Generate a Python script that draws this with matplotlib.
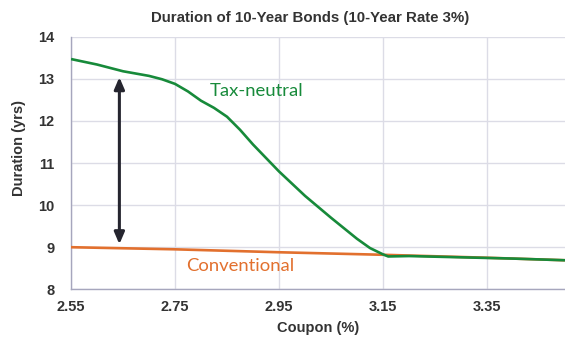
#!/usr/bin/env python3
# duration of 10-year bonds: tax-neutral vs conventional
import matplotlib
matplotlib.use("Agg")
import matplotlib.pyplot as plt

# values
coupon_tn = [2.55, 2.60, 2.65, 2.70, 2.725, 2.75, 2.775, 2.80, 2.825, 2.85, 2.875,
             2.90, 2.95, 3.00, 3.05, 3.10, 3.125, 3.15, 3.16, 3.20, 3.30,
             3.40, 3.50]
dur_tax_neutral = [13.47, 13.34, 13.18, 13.07, 12.99, 12.88, 12.70, 12.48, 12.31, 12.10, 11.79,
                   11.44, 10.80, 10.22, 9.70, 9.20, 8.98, 8.83, 8.78, 8.79, 8.76,
                   8.73, 8.69]
coupon_conv = [2.55, 2.75, 2.95, 3.15, 3.35, 3.50]
dur_conventional = [9.00, 8.95, 8.88, 8.82, 8.75, 8.69]
x_ticks = [2.55, 2.75, 2.95, 3.15, 3.35]
y_ticks = [8, 9, 10, 11, 12, 13, 14]
gap_at = 2.643
gap_range = (9.07, 13.04)

GREEN = "#178a3a"
ORANGE = "#e2702e"
TXT = "#333333"
SANS = "Liberation Sans"

fig = plt.figure(figsize=(5.65, 3.39), dpi=100)
ax = fig.add_axes([0.1257, 0.1466, 0.8743, 0.745])

ax.plot(coupon_conv, dur_conventional, color=ORANGE, lw=1.9, solid_capstyle="butt", zorder=3)
ax.plot(coupon_tn, dur_tax_neutral, color=GREEN, lw=1.9, solid_capstyle="butt", zorder=4)

ax.annotate("", xy=(gap_at, gap_range[1]), xytext=(gap_at, gap_range[0]),
            arrowprops=dict(arrowstyle="<|-|>,head_length=0.7,head_width=0.3",
                            color="#25252f", lw=2.2, shrinkA=0, shrinkB=0), zorder=5)

ax.text(2.817, 12.72, "Tax-neutral", color=GREEN, fontsize=13.3, family="Lato",
        va="center", ha="left")
ax.text(2.772, 8.55, "Conventional", color=ORANGE, fontsize=13.3, family="Lato",
        va="center", ha="left")

ax.set_xlim(2.55, 3.50)
ax.set_ylim(8, 14)
ax.set_xticks(x_ticks)
ax.set_xticklabels([f"{v:.2f}" for v in x_ticks])
ax.set_yticks(y_ticks)
ax.grid(True, color="#dcdce6", lw=1.0, zorder=0)
ax.set_axisbelow(True)
ax.tick_params(length=0, labelsize=10.5, labelcolor=TXT)
ax.tick_params(axis="x", pad=8)
ax.tick_params(axis="y", pad=12)
for lab in ax.get_xticklabels() + ax.get_yticklabels():
    lab.set_fontweight("bold")
    lab.set_family(SANS)
for side in ("top", "right"):
    ax.spines[side].set_visible(False)
for side in ("left", "bottom"):
    ax.spines[side].set_color("#a6a6bd")
    ax.spines[side].set_linewidth(1.0)

ax.set_xlabel("Coupon (%)", fontsize=10.5, fontweight="bold", color=TXT, family=SANS)
ax.set_ylabel("Duration (yrs)", fontsize=10.5, fontweight="bold", color=TXT, family=SANS)
ax.xaxis.set_label_coords(0.5, -0.125)
ax.yaxis.set_label_coords(-0.092, 0.56)
fig.text(0.549, 0.946, "Duration of 10-Year Bonds (10-Year Rate 3%)", fontsize=10.8,
         fontweight="bold", color=TXT, ha="center", va="center", family=SANS)

fig.savefig("out.png", dpi=100)
